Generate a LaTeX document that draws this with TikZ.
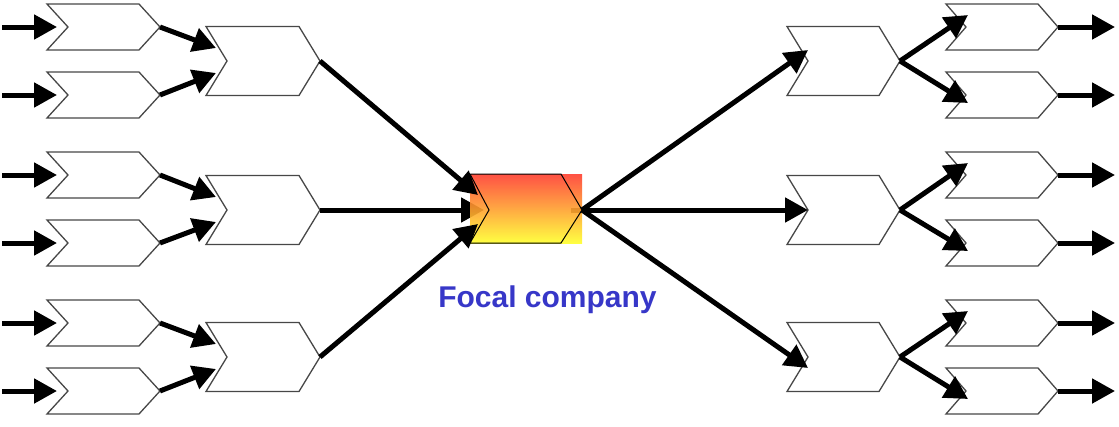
\documentclass[tikz,border=0pt]{standalone}
\usepackage{fontspec}
\setmainfont{Liberation Sans}
\usetikzlibrary{arrows.meta,calc}
\definecolor{focalblue}{RGB}{55,55,200}
\definecolor{focaltop}{RGB}{255,62,48}
\definecolor{focalbot}{RGB}{255,255,45}
\tikzset{
  chevline/.style={draw=black!72,line width=1.3pt,fill=white,line join=miter},
  flow/.style={line width=5pt,-{Triangle[length=23pt,width=24pt]}},
  flowline/.style={line width=5pt},
}
% \chev{name}{left x}{centre y}{width}{height}{depth}
\newcommand\chev[6]{%
  \draw[chevline] (#2,#3-#5/2) -- (#2+#4-#6,#3-#5/2) -- (#2+#4,#3)
    -- (#2+#4-#6,#3+#5/2) -- (#2,#3+#5/2) -- (#2+#6,#3) -- cycle;
  \coordinate (#1-in) at (#2+#6,#3);
  \coordinate (#1-out) at (#2+#4,#3);
}
\begin{document}
\begin{tikzpicture}[x=1pt,y=-1pt]
\useasboundingbox (0,0) rectangle (1119,426);
% left small chevrons
\foreach \n/\y in {a/27,b/95,c/175,d/243,e/323,f/391}{
  \chev{L\n}{47}{\y}{113}{46}{21}
  \coordinate (L\n-src) at (2,\y);
}
% mid-left
\chev{M1}{206}{61}{114}{69}{21}
\chev{M2}{206}{210}{114}{69}{21}
\chev{M3}{206}{357}{114}{69}{21}
% mid-right
\chev{R1}{787}{61}{113}{69}{21}
\chev{R2}{787}{210}{113}{69}{21}
\chev{R3}{787}{357}{113}{69}{21}
% right small chevrons
\foreach \n/\y in {a/27,b/95,c/175,d/243,e/323,f/391}{
  \chev{S\n}{946}{\y}{112}{46}{20}
  \coordinate (S\n-dst) at (1115,\y);
}
% focal company
\coordinate (F-in) at (489,210);
\coordinate (F-out) at (582,210);
% arrows under the focal box
\draw[flow] (M2-out) -- ($(F-in)+(-5,0)$);
\draw[flowline] ($(F-out)+(-11,0)$) -- (F-out);
\shade[top color=focaltop,bottom color=focalbot,opacity=0.9] (470,174) rectangle (582,243);
\draw[black,line width=1pt,line join=miter] (470,174) -- (561,174) -- (F-out) -- (561,243) -- (470,243) -- (F-in) -- cycle;
\node[text=focalblue,font=\bfseries\fontsize{30}{34}\selectfont,anchor=base] (label) at (547.5,307) {Focal company};
% input arrows
\foreach \n in {a,b,c,d,e,f}{
  \draw[flow] (L\n-src) -- ($(L\n-in)+(-11,0)$);
  \draw[flow] (S\n-out) -- (S\n-dst);
}
% small to mid-left
\draw[flow] (La-out) -- ($(M1-in)+(-11,-13)$);
\draw[flow] (Lb-out) -- ($(M1-in)+(-11,12)$);
\draw[flow] (Lc-out) -- ($(M2-in)+(-11,-13)$);
\draw[flow] (Ld-out) -- ($(M2-in)+(-11,12)$);
\draw[flow] (Le-out) -- ($(M3-in)+(-11,-13)$);
\draw[flow] (Lf-out) -- ($(M3-in)+(-11,12)$);
% mid-left to focal
\draw[flow] (M1-out) -- ($(F-in)+(-11,-15)$);
\draw[flow] (M3-out) -- ($(F-in)+(-11,14)$);
% focal to mid-right
\draw[flow] (F-out) -- ($(R1-in)+(0,-11)$);
\draw[flow] (F-out) -- (R2-in);
\draw[flow] (F-out) -- ($(R3-in)+(0,11)$);
% mid-right to right small
\draw[flow] (R1-out) -- ($(Sa-in)+(2,-12)$);
\draw[flow] (R1-out) -- ($(Sb-in)+(2,8)$);
\draw[flow] (R2-out) -- ($(Sc-in)+(2,-12)$);
\draw[flow] (R2-out) -- ($(Sd-in)+(2,8)$);
\draw[flow] (R3-out) -- ($(Se-in)+(2,-12)$);
\draw[flow] (R3-out) -- ($(Sf-in)+(2,8)$);
\end{tikzpicture}
\end{document}
